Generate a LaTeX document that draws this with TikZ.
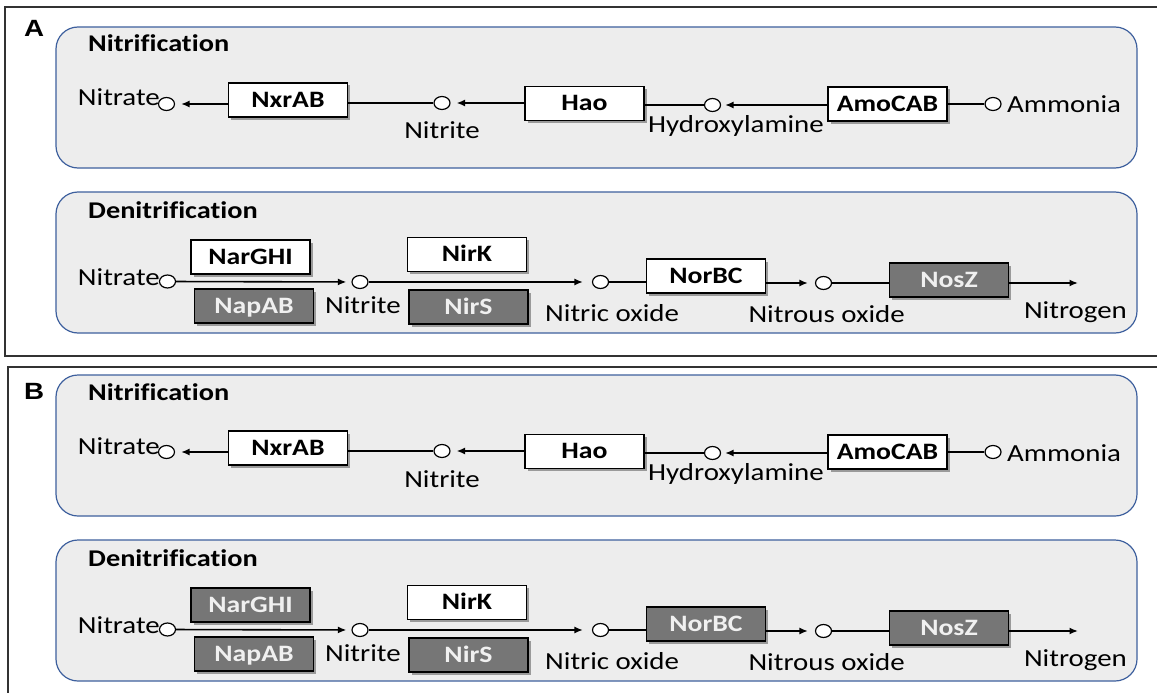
\documentclass[tikz,border=0pt]{standalone}
\usepackage{fontspec}
\setmainfont{Carlito}[FakeStretch=1.18, Ligatures=NoCommon]
\newfontfamily\arialf{Liberation Sans}[FakeStretch=1.18]
\usetikzlibrary{shadows,arrows.meta,shapes.geometric}
\definecolor{panelfill}{RGB}{237,237,237}
\definecolor{panelblue}{RGB}{62,96,158}
\definecolor{enzdark}{RGB}{118,118,118}
\definecolor{framegray}{RGB}{50,50,50}
\tikzset{
  enz/.style={draw=black, line width=1.4pt, minimum width=119pt, minimum height=34pt,
    inner sep=0pt, text height=14.5pt, text depth=0pt,
    font=\bfseries\fontsize{23.5}{27}\selectfont,
    drop shadow={shadow xshift=2.5pt, shadow yshift=-2.5pt, opacity=0.35, fill=black}},
  enzwhite/.style={enz, fill=white, text=black},
  enzgray/.style={enz, fill=enzdark, text=white!94!black},
  met/.style={ellipse, draw=black, fill=white, line width=1.2pt, minimum width=16pt,
    minimum height=13pt, inner sep=0pt},
  lbl/.style={font=\fontsize{24.5}{28}\selectfont, inner sep=0pt},
  hdr/.style={font=\bfseries\fontsize{24}{28}\selectfont, anchor=base west, inner sep=0pt},
  conv/.style={line width=1.6pt, -{Latex[length=8.5pt,width=7pt]}, shorten >=6pt},
  link/.style={line width=1.6pt},
  pbox/.style={draw=panelblue, fill=panelfill, line width=1.2pt, rounded corners=22pt},
  frame/.style={draw=framegray, line width=2pt},
  letter/.style={font=\arialf\bfseries\fontsize{23.5}{28}\selectfont, anchor=base west, inner sep=0pt}
}
\newcommand{\drawpanel}[4]{%
\begin{scope}[shift={(0,#2)}]
  \draw[pbox] (56,27) rectangle (1137,168);
  \draw[pbox] (56,192) rectangle (1137,333);
  \node[hdr] (#1hn) at (88,52) {Nitrification};
  \node[hdr] (#1hd) at (88,218) {Denitrification};
  % nitrification
  \node[enzwhite] (#1nxr) at (288,100) {NxrAB};
  \node[enzwhite] (#1hao) at (584.5,103.5) {Hao};
  \node[enzwhite] (#1amo) at (887.5,104) {AmoCAB};
  \node[met] (#1cNa) at (166.5,104) {};
  \node[met] (#1cNi) at (442,103) {};
  \node[met] (#1cHy) at (712.5,105) {};
  \node[met] (#1cAm) at (993,104) {};
  \node[lbl, anchor=base east] (#1tNa) at (160,106) {Nitrate};
  \node[lbl, anchor=base] (#1tNi) at (442,139) {Nitrite};
  \node[lbl, anchor=base] (#1tHy) at (736,132) {Hydroxylamine};
  \node[lbl, anchor=base west] (#1tAm) at (1007,113) {Ammonia};
  \draw[conv] (#1nxr.west |- #1cNa) -- (#1cNa);
  \draw[link] (#1nxr.east |- #1cNi) -- (#1cNi);
  \draw[conv] (#1hao.west |- #1cNi) -- (#1cNi);
  \draw[link] (#1hao.east |- #1cHy) -- (#1cHy);
  \draw[conv, shorten >=4pt] (#1amo.west |- #1cHy) -- (#1cHy);
  \draw[link] (#1amo.east |- #1cAm) -- (#1cAm);
  % denitrification
  \node[met] (#1cNa2) at (167.5,281.5) {};
  \node[met] (#1cNi2) at (360,282) {};
  \node[met] (#1cNO) at (600.5,282) {};
  \node[met] (#1cNNO) at (823.5,283) {};
  \coordinate (#1endN) at (1078,283);
  \draw[conv, shorten >=5pt] (#1cNa2) -- (#1cNi2);
  \draw[conv, shorten >=9pt] (#1cNi2) -- (#1cNO);
  \node[#3] (#1nar) at (250.5,257) {NarGHI};
  \node[enzgray] (#1nap) at (254,306) {NapAB};
  \node[enzwhite] (#1nirk) at (467,254.5) {NirK};
  \node[enzgray] (#1nirs) at (468.5,307) {NirS};
  \node[#4] (#1nor) at (706,276) {NorBC};
  \node[enzgray] (#1nos) at (949,280) {NosZ};
  \draw[link] (#1cNO) -- (#1nor.west |- #1cNO);
  \draw[conv, shorten >=7pt] (#1nor.east |- #1cNNO) -- (#1cNNO);
  \draw[link] (#1cNNO) -- (#1nos.west |- #1cNNO);
  \draw[conv, shorten >=0pt] (#1nos.east |- #1cNNO) -- (#1endN);
  \node[lbl, anchor=base east] (#1tNa2) at (160,285) {Nitrate};
  \node[lbl, anchor=base west] (#1tNi2) at (325,313) {Nitrite};
  \node[lbl, anchor=base west] (#1tNO) at (545,321) {Nitric oxide};
  \node[lbl, anchor=base east] (#1tNNO) at (905,322) {Nitrous oxide};
  \node[lbl, anchor=base east] (#1tNN) at (1127,318) {Nitrogen};
\end{scope}}
\begin{document}
\begin{tikzpicture}[x=1pt, y=-1pt]
  \useasboundingbox (0,0) rectangle (1157,693);
  \fill[white] (0,0) rectangle (1157,693);
  \draw[frame] (5,7) rectangle (1175,356);
  \draw[frame] (8,367) rectangle (1175,715);
  \node[letter] (lblA) at (24,37) {A};
  \node[letter] (lblB) at (24,399) {B};
  \drawpanel{a}{0}{enzwhite}{enzwhite}
  \drawpanel{b}{348}{enzgray}{enzgray}
\end{tikzpicture}
\end{document}
